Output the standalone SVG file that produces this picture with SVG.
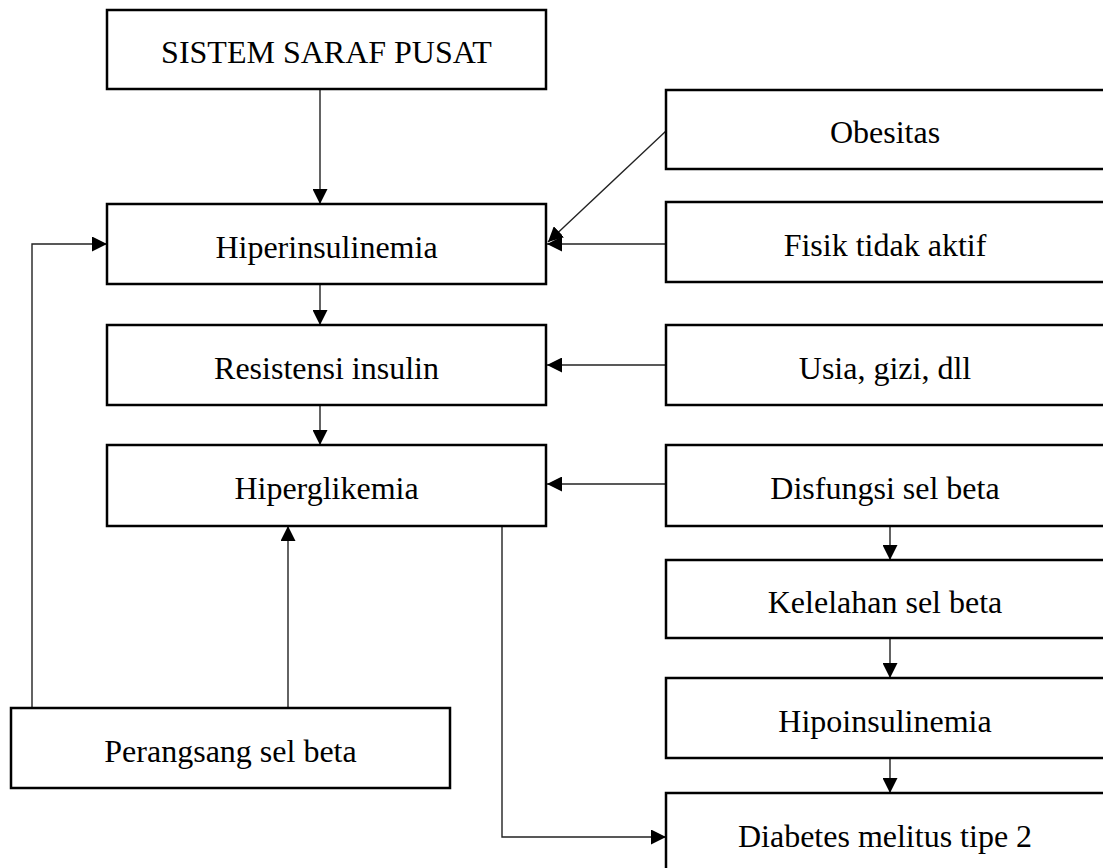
<svg xmlns="http://www.w3.org/2000/svg" width="1103" height="868" viewBox="0 0 1103 868">
  <style>
    .box { fill: #fff; stroke: #000; stroke-width: 2.5; }
    .lbl { font-family: "Liberation Serif", "Times New Roman", serif; font-size: 32px; fill: #000; text-anchor: middle; }
    .con { fill: none; stroke: #222; stroke-width: 1.4; }
  </style>
  <defs>
    <marker id="arrow" markerUnits="userSpaceOnUse" markerWidth="15" markerHeight="15" refX="15" refY="7.5" orient="auto">
      <path d="M0,0 L15,7.5 L0,15 z" fill="#000"/>
    </marker>
  </defs>

  <rect width="1103" height="868" fill="#fff"/>

  <!-- connectors -->
  <g id="connectors">
    <line class="con" x1="320" y1="89" x2="320" y2="204" marker-end="url(#arrow)"/>
    <line class="con" x1="320" y1="284" x2="320" y2="325" marker-end="url(#arrow)"/>
    <line class="con" x1="320" y1="405" x2="320" y2="445" marker-end="url(#arrow)"/>
    <line class="con" x1="666" y1="131" x2="548" y2="242" marker-end="url(#arrow)"/>
    <line class="con" x1="666" y1="244" x2="547" y2="244" marker-end="url(#arrow)"/>
    <line class="con" x1="666" y1="365" x2="547" y2="365" marker-end="url(#arrow)"/>
    <line class="con" x1="666" y1="484" x2="547" y2="484" marker-end="url(#arrow)"/>
    <line class="con" x1="890" y1="526" x2="890" y2="560" marker-end="url(#arrow)"/>
    <line class="con" x1="890" y1="638" x2="890" y2="678" marker-end="url(#arrow)"/>
    <line class="con" x1="890" y1="758" x2="890" y2="793" marker-end="url(#arrow)"/>
    <polyline class="con" points="32,708 32,244 107,244" marker-end="url(#arrow)"/>
    <line class="con" x1="288" y1="708" x2="288" y2="526" marker-end="url(#arrow)"/>
    <polyline class="con" points="502,526 502,837 666,837" marker-end="url(#arrow)"/>
  </g>

  <!-- left column -->
  <g id="sistem-saraf-pusat">
    <rect class="box" x="107" y="10" width="439" height="79"/>
    <text class="lbl" x="326.5" y="63">SISTEM SARAF PUSAT</text>
  </g>
  <g id="hiperinsulinemia">
    <rect class="box" x="107" y="204" width="439" height="80"/>
    <text class="lbl" x="326.5" y="258">Hiperinsulinemia</text>
  </g>
  <g id="resistensi-insulin">
    <rect class="box" x="107" y="325" width="439" height="80"/>
    <text class="lbl" x="326.5" y="379">Resistensi insulin</text>
  </g>
  <g id="hiperglikemia">
    <rect class="box" x="107" y="445" width="439" height="81"/>
    <text class="lbl" x="326.5" y="499">Hiperglikemia</text>
  </g>
  <g id="perangsang-sel-beta">
    <rect class="box" x="11" y="708" width="439" height="80"/>
    <text class="lbl" x="230.5" y="762">Perangsang sel beta</text>
  </g>

  <!-- right column -->
  <g id="obesitas">
    <rect class="box" x="666" y="90" width="440" height="79"/>
    <text class="lbl" x="885" y="143">Obesitas</text>
  </g>
  <g id="fisik-tidak-aktif">
    <rect class="box" x="666" y="202" width="440" height="80"/>
    <text class="lbl" x="885" y="256">Fisik tidak aktif</text>
  </g>
  <g id="usia-gizi">
    <rect class="box" x="666" y="325" width="440" height="80"/>
    <text class="lbl" x="885" y="379">Usia, gizi, dll</text>
  </g>
  <g id="disfungsi-sel-beta">
    <rect class="box" x="666" y="445" width="440" height="81"/>
    <text class="lbl" x="885" y="499">Disfungsi sel beta</text>
  </g>
  <g id="kelelahan-sel-beta">
    <rect class="box" x="666" y="560" width="440" height="78"/>
    <text class="lbl" x="885" y="613">Kelelahan sel beta</text>
  </g>
  <g id="hipoinsulinemia">
    <rect class="box" x="666" y="678" width="440" height="80"/>
    <text class="lbl" x="885" y="732">Hipoinsulinemia</text>
  </g>
  <g id="diabetes-melitus-tipe-2">
    <rect class="box" x="666" y="793" width="440" height="80"/>
    <text class="lbl" x="885" y="847">Diabetes melitus tipe 2</text>
  </g>
</svg>
